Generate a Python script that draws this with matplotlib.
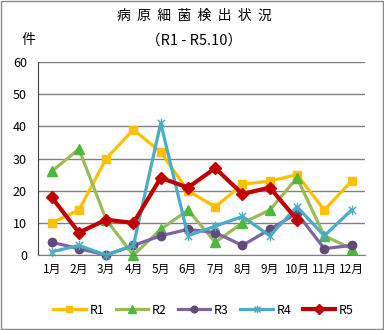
import numpy as np
import matplotlib
matplotlib.use('Agg')
import matplotlib.pyplot as plt
from matplotlib.patches import Rectangle
from matplotlib.path import Path

plt.rcParams['font.family'] = ['Noto Sans CJK JP', 'DejaVu Sans']

months = ['1月', '2月', '3月', '4月', '5月', '6月', '7月', '8月', '9月', '10月', '11月', '12月']
r1 = [10, 14, 30, 39, 32, 20, 15, 22, 23, 25, 14, 23]
r2 = [26, 33, 11, 0, 8, 14, 4, 10, 14, 24, 6, 2]
r3 = [4, 2, 0, 3, 6, 8, 7, 3, 8, 13, 2, 3]
r4 = [1, 3, 0, 3, 41, 6, 9, 12, 6, 15, 6, 14]
r5 = [18, 7, 11, 10, 24, 21, 27, 19, 21, 11]
y_ticks = [0, 10, 20, 30, 40, 50, 60]

# excel-like star marker: x with a vertical stroke
star = Path([(-1, -1), (1, 1), (-1, 1), (1, -1), (0, -1.3), (0, 1.3)],
            [Path.MOVETO, Path.LINETO, Path.MOVETO, Path.LINETO, Path.MOVETO, Path.LINETO])

fig = plt.figure(figsize=(3.84, 3.30), dpi=100)
ax = fig.add_axes([0.099, 0.227, 0.852, 0.585])

# figure border
fig.patches.append(Rectangle((0.003, 0.003), 0.994, 0.994, transform=fig.transFigure,
                             fill=False, edgecolor='#8a8a8a', linewidth=1))

x = np.arange(len(months))
series = [
    ('R1', r1, '#FFC000', '#FFC000', 's', 6),
    ('R2', r2, '#9BBB59', '#4CB83C', '^', 6.5),
    ('R3', r3, '#8064A2', '#604A7B', 'o', 6),
    ('R4', r4, '#4BACC6', '#4BACC6', star, 7),
    ('R5', r5, '#C00000', '#C00000', 'D', 6),
]
for name, vals, lc, mc, mk, ms in series:
    lw = 3 if name == 'R5' else 2.3
    ax.plot(x[:len(vals)], vals, color=lc, linewidth=lw, marker=mk, markersize=ms,
            markerfacecolor=mc, markeredgecolor=mc, markeredgewidth=1.0, label=name,
            clip_on=False)

ax.set_xlim(-0.5, len(months) - 0.5)
ax.set_ylim(0, 60)
ax.set_yticks(y_ticks)
ax.set_xticks(x)
ax.set_xticklabels(months, fontsize=8.5)
ax.tick_params(axis='y', labelsize=9, length=0, pad=8)
ax.tick_params(axis='x', length=0, pad=6)
ax.grid(axis='y', color='#808080', linewidth=1)
ax.set_axisbelow(True)
for s in ['top', 'right']:
    ax.spines[s].set_visible(False)
ax.spines['left'].set_color('#404040')
ax.spines['bottom'].set_color('#808080')

fig.text(0.505, 0.952, '病  原  細  菌  検  出  状  況', ha='center', va='center', fontsize=10)
fig.text(0.505, 0.878, '（R1 - R5.10）', ha='center', va='center', fontsize=10.5)
fig.text(0.075, 0.878, '件', ha='center', va='center', fontsize=10)

fig.legend(loc='center', bbox_to_anchor=(0.53, 0.06), ncol=5, frameon=False,
           fontsize=9, handlelength=2.6, columnspacing=0.9, handletextpad=0.3,
           markerscale=0.8)

fig.savefig('out.png', dpi=100)
